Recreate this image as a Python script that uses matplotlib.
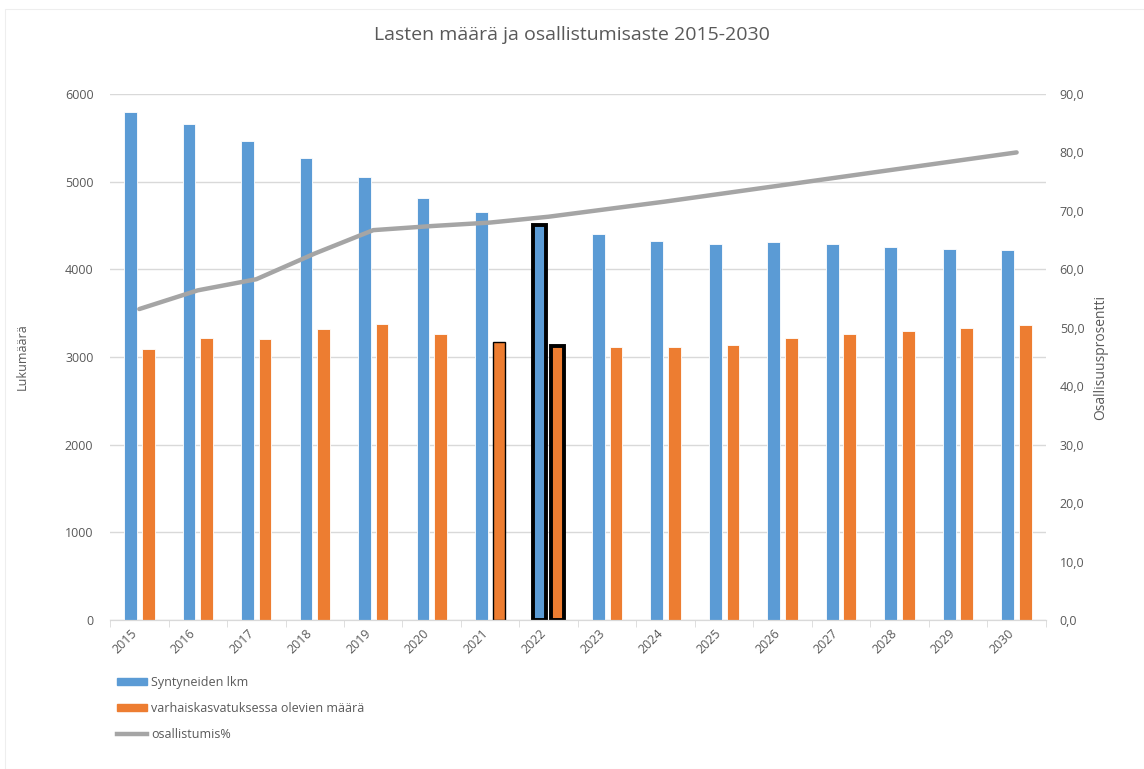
import matplotlib
matplotlib.use("Agg")
import matplotlib.pyplot as plt
import matplotlib.patches as mpatches
from matplotlib.lines import Line2D
import numpy as np

plt.rcParams['font.family'] = ['Open Sans', 'DejaVu Sans']

years = [str(y) for y in range(2015, 2031)]
syntyneet = [5795, 5657, 5460, 5274, 5053, 4817, 4658, 4510,
             4407, 4319, 4285, 4308, 4293, 4259, 4232, 4220]
varhaiskasvatus = [3088, 3213, 3201, 3323, 3372, 3262, 3167, 3120,
                   3110, 3110, 3133, 3221, 3259, 3297, 3335, 3369]
osallistumis = [53.2, 56.4, 58.3, 62.7, 66.7, 67.4, 68.0, 69.0,
                70.3, 71.6, 73.0, 74.4, 75.8, 77.2, 78.6, 80.0]

BLUE = '#5B9BD5'
ORANGE = '#ED7D31'
GRAY = '#A5A5A5'
TXT = '#595959'

fig = plt.figure(figsize=(11.44, 7.69), dpi=100)
ax = fig.add_axes([0.0962, 0.1938, 0.818, 0.684])
ax2 = ax.twinx()

x = np.arange(len(years))
w = 0.22
b1 = ax.bar(x - 0.15, syntyneet, w, color=BLUE, edgecolor='white', linewidth=0.6, zorder=2)
b2 = ax.bar(x + 0.15, varhaiskasvatus, w, color=ORANGE, edgecolor='white', linewidth=0.6, zorder=2)

# highlighted bars
i21 = years.index('2021')
i22 = years.index('2022')
b2[i21].set_edgecolor('black')
b2[i21].set_linewidth(1.0)
for b in (b1[i22], b2[i22]):
    b.set_edgecolor('black')
    b.set_linewidth(2.8)

ax2.plot(x, osallistumis, color=GRAY, linewidth=3.2, solid_capstyle='round', zorder=3)

ax.set_xlim(-0.5, len(years) - 0.5)
ax.set_ylim(0, 6000)
ax.set_yticks(range(0, 6001, 1000))
ax2.set_ylim(0, 90)
ax2.set_yticks(range(0, 91, 10))
ax2.set_yticklabels([f"{v},0" for v in range(0, 91, 10)])

ax.set_xticks(x)
ax.set_xticklabels(years, rotation=45, ha='right', fontsize=9, color=TXT)
ax.set_xticks(np.arange(-0.5, len(years), 1), minor=True)
ax.tick_params(axis='x', which='major', length=0, pad=5)
ax.tick_params(axis='x', which='minor', length=5, color='#D9D9D9')
ax.tick_params(axis='y', length=0, labelsize=9, labelcolor=TXT, pad=12)
ax2.tick_params(axis='y', length=0, labelsize=9, labelcolor=TXT, pad=10)

ax.grid(axis='y', color='#D9D9D9', linewidth=1.0, zorder=0)
ax.set_axisbelow(True)
for a in (ax, ax2):
    for s in ('top', 'left', 'right'):
        a.spines[s].set_visible(False)
    a.spines['bottom'].set_color('#D9D9D9')

ax.set_ylabel('Lukumäärä', fontsize=9, color=TXT, labelpad=26)
ax2.set_ylabel('Osallisuusprosentti', fontsize=10, color=TXT, labelpad=6)

fig.text(0.5, 0.955, 'Lasten määrä ja osallistumisaste 2015-2030',
         ha='center', va='center', fontsize=14, color=TXT)

handles = [mpatches.Patch(color=BLUE, label='Syntyneiden lkm'),
           mpatches.Patch(color=ORANGE, label='varhaiskasvatuksessa olevien määrä'),
           Line2D([0], [0], color=GRAY, linewidth=3.2, label='osallistumis%')]
fig.legend(handles=handles, loc='upper left', bbox_to_anchor=(0.098, 0.128),
           frameon=False, fontsize=9, labelcolor=TXT, handlelength=2.4,
           handleheight=0.5, labelspacing=1.05, handletextpad=0.3,
           borderaxespad=0)

fig.add_artist(mpatches.Rectangle((0.004, 0.0), 0.996, 0.988, transform=fig.transFigure,
                                  fill=False, edgecolor='#EEEEEE', linewidth=0.8))

fig.savefig('out.png', dpi=100)
